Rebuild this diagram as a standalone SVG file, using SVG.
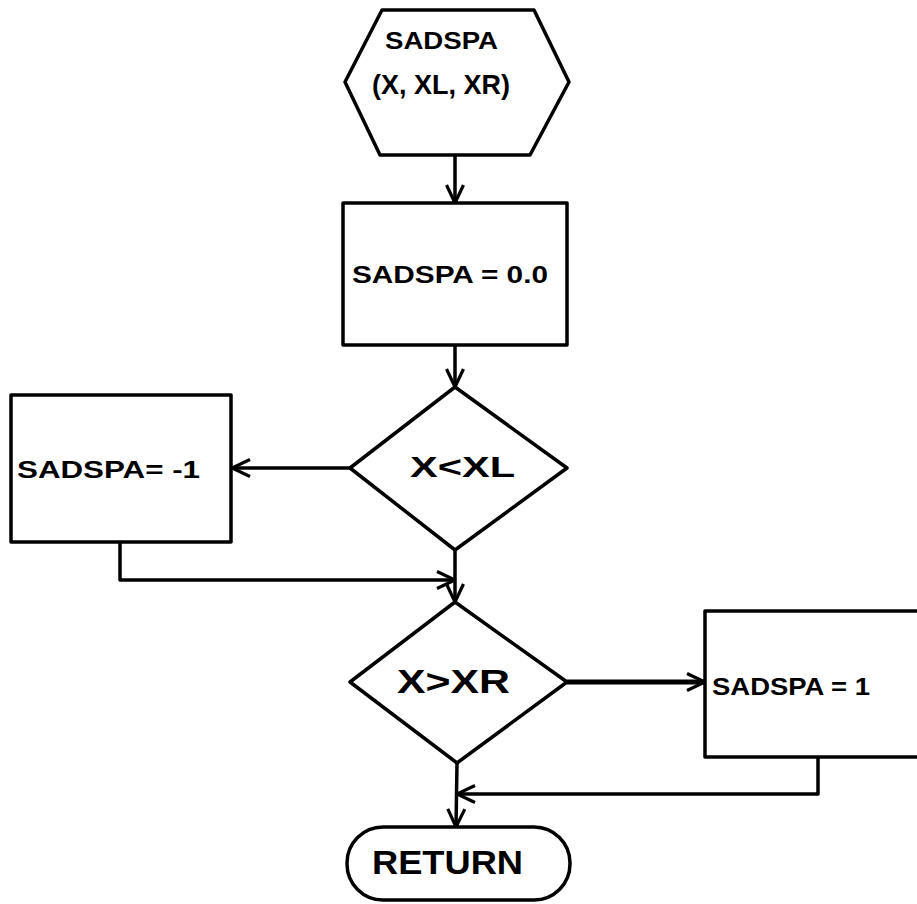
<svg xmlns="http://www.w3.org/2000/svg" width="917" height="904" viewBox="0 0 917 904">
  <style>
    .shape { fill: #ffffff; stroke: #000000; stroke-width: 3.5; stroke-linejoin: round; }
    .edge { fill: none; stroke: #000000; stroke-width: 3.5; stroke-linejoin: round; }
    .heavy { stroke-width: 5; }
    .lbl { font-family: "Liberation Sans", "DejaVu Sans", sans-serif; font-weight: bold; fill: #000000; }
  </style>
  <defs>
    <marker id="arrow" viewBox="0 0 20 20" refX="19" refY="10" markerWidth="20" markerHeight="20" markerUnits="userSpaceOnUse" orient="auto">
      <path d="M1,1.5 L19,10 L1,18.5" fill="none" stroke="#000000" stroke-width="3.2" stroke-linejoin="miter"/>
    </marker>
  </defs>

  <rect width="917" height="904" fill="#ffffff"/>

  <!-- entry point -->
  <g id="entry">
    <polygon class="shape" points="382,10 534,10 569,82 530,155 380,155 345,82"/>
    <text class="lbl" x="385" y="49" font-size="23" textLength="113" lengthAdjust="spacingAndGlyphs">SADSPA</text>
    <text class="lbl" x="372" y="94" font-size="28" textLength="138" lengthAdjust="spacingAndGlyphs">(X, XL, XR)</text>
  </g>

  <!-- initialise result -->
  <g id="init">
    <rect class="shape" x="343" y="203" width="224" height="142"/>
    <text class="lbl" x="352" y="283" font-size="23" textLength="196" lengthAdjust="spacingAndGlyphs">SADSPA = 0.0</text>
  </g>

  <!-- below the left bound -->
  <g id="test-left">
    <polygon class="shape" points="455,387 567,468 455,550 350,468"/>
    <text class="lbl" x="410" y="477" font-size="29" textLength="105" lengthAdjust="spacingAndGlyphs">X&lt;XL</text>
  </g>

  <g id="set-minus">
    <rect class="shape" x="11" y="395" width="220" height="147"/>
    <text class="lbl" x="17" y="478" font-size="23" textLength="183" lengthAdjust="spacingAndGlyphs">SADSPA= -1</text>
  </g>

  <!-- above the right bound -->
  <g id="test-right">
    <polygon class="shape" points="455,602 567,682 457,763 350,682"/>
    <text class="lbl" x="397" y="693" font-size="33" textLength="113" lengthAdjust="spacingAndGlyphs">X&gt;XR</text>
  </g>

  <g id="set-plus">
    <rect class="shape" x="705" y="611" width="230" height="146"/>
    <text class="lbl" x="712" y="695" font-size="23" textLength="158" lengthAdjust="spacingAndGlyphs">SADSPA = 1</text>
  </g>

  <!-- exit -->
  <g id="exit">
    <rect class="shape" x="347" y="827" width="223" height="73" rx="36" ry="36"/>
    <text class="lbl" x="372" y="874" font-size="33" textLength="151" lengthAdjust="spacingAndGlyphs">RETURN</text>
  </g>

  <g id="connectors">
    <path class="edge" d="M455,155 L455,203" marker-end="url(#arrow)"/>
    <path class="edge" d="M455,345 L455,387" marker-end="url(#arrow)"/>
    <path class="edge" d="M350,468 L232,468" marker-end="url(#arrow)"/>
    <path class="edge" d="M455,550 L455,602" marker-end="url(#arrow)"/>
    <path class="edge" d="M120,542 L120,580 L455,580" marker-end="url(#arrow)"/>
    <path class="edge heavy" d="M567,682 L705,682" marker-end="url(#arrow)"/>
    <path class="edge" d="M457,763 L456,827" marker-end="url(#arrow)"/>
    <path class="edge" d="M818,757 L818,794 L457,794" marker-end="url(#arrow)"/>
  </g>
</svg>
